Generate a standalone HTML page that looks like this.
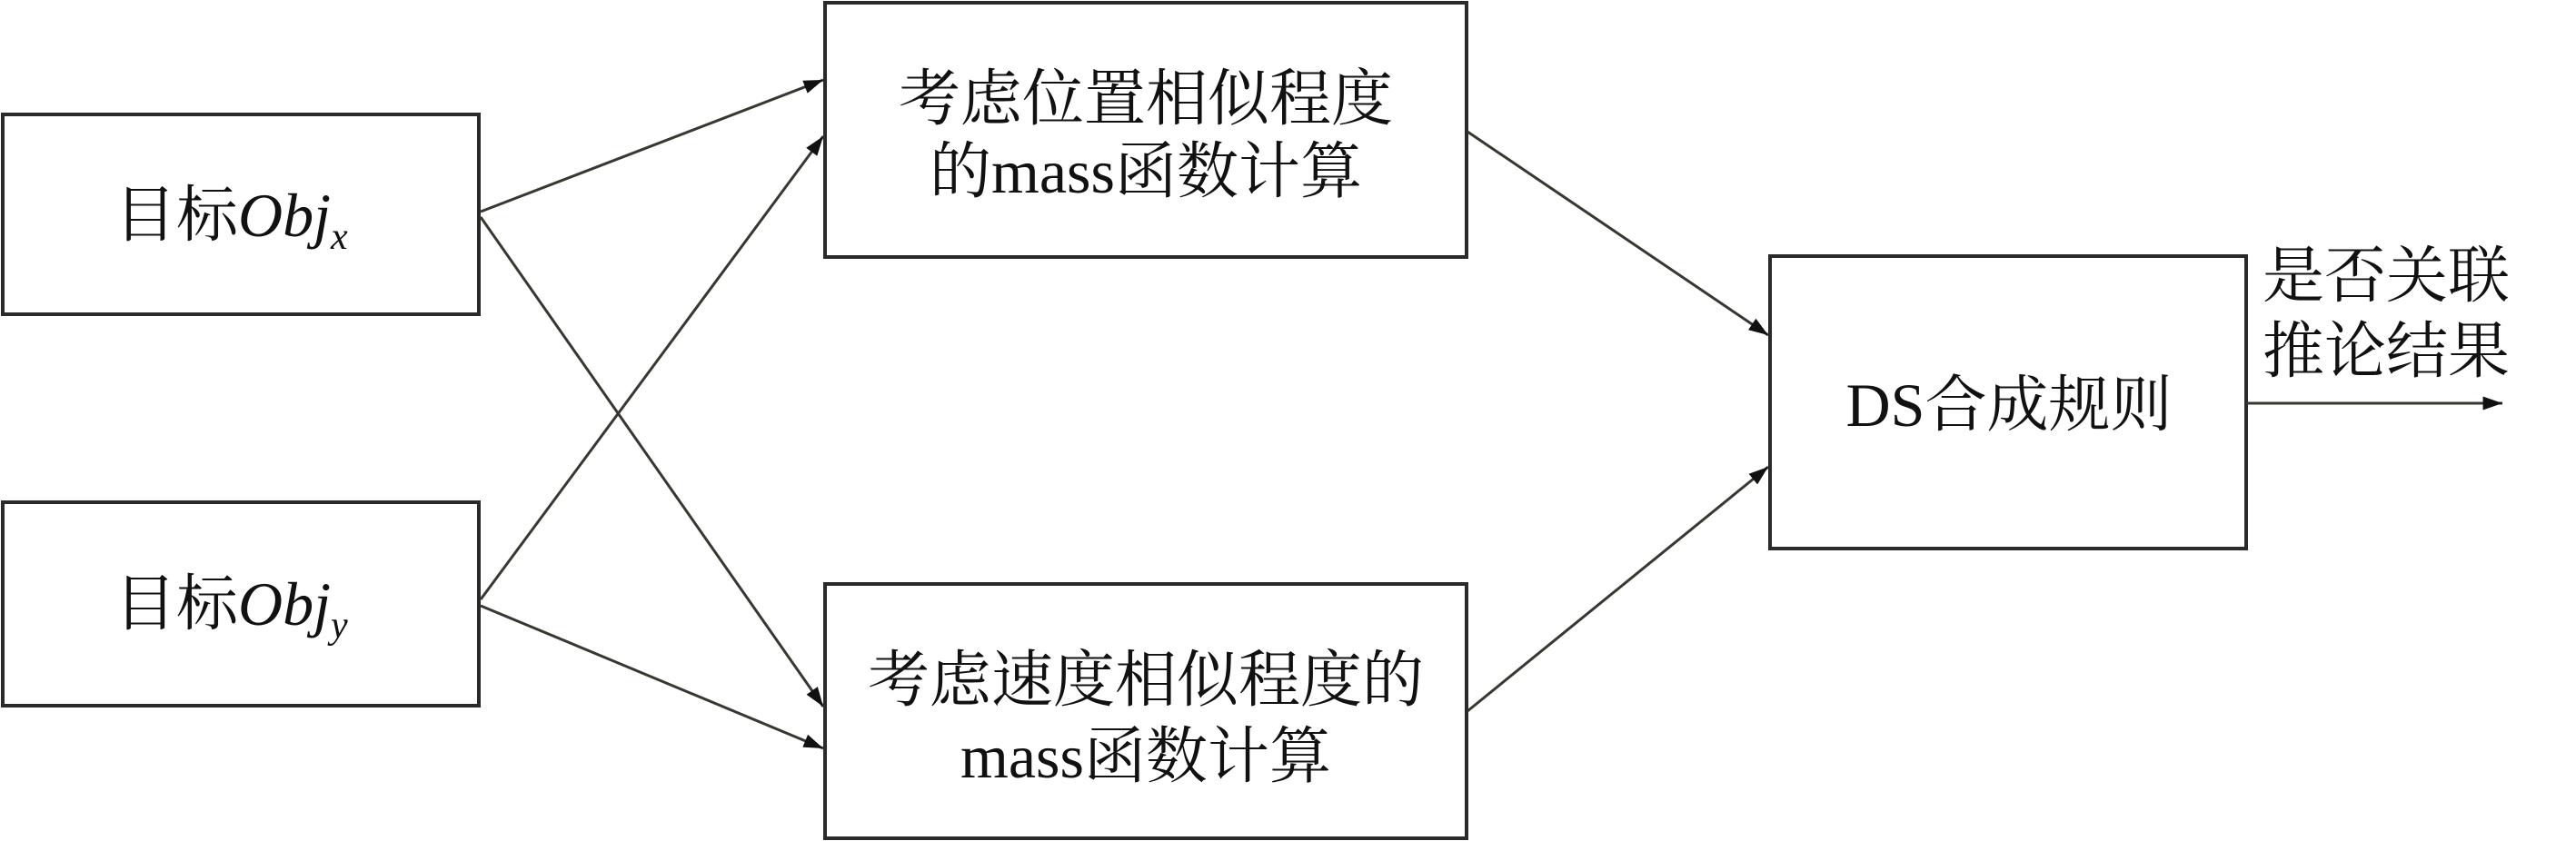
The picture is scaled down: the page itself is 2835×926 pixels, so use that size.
<!DOCTYPE html>
<html><head><meta charset="utf-8"><style>
body{margin:0;background:#fff;}
svg{display:block;}
text{font-family:"Liberation Serif","Noto Serif CJK SC",serif;fill:#111;}
</style></head><body>
<svg width="2835" height="926" viewBox="0 0 2835 926" xmlns="http://www.w3.org/2000/svg">
<defs>
<marker id="b" viewBox="0 0 20 14" markerWidth="22" markerHeight="15" refX="20" refY="7" orient="auto" markerUnits="userSpaceOnUse"><path d="M0,0 L20,7 L0,14 z" fill="#111"/></marker></defs>
<g fill="none" stroke="#2a2a2a" stroke-width="4">
<rect x="3" y="126" width="524" height="220"/>
<rect x="3" y="553" width="524" height="224"/>
<rect x="908" y="3" width="706" height="280"/>
<rect x="908" y="643" width="706" height="280"/>
<rect x="1948" y="282" width="524" height="322"/>
</g>
<g stroke="#3a3630" stroke-width="3" fill="none" marker-end="url(#b)">
<line x1="529" y1="233" x2="906" y2="88"/>
<line x1="529" y1="660" x2="906" y2="150"/>
<line x1="529" y1="239" x2="906" y2="778"/>
<line x1="529" y1="667" x2="906" y2="824"/>
<line x1="1615" y1="145" x2="1946" y2="369"/>
<line x1="1615" y1="783" x2="1946" y2="514"/>
<line x1="2472" y1="444" x2="2754" y2="444"/>
</g>
<g font-size="68">
<text x="126" y="260">目标<tspan font-style="italic">Obj</tspan><tspan font-style="italic" font-size="42" dy="14">x</tspan></text>
<text x="126" y="688">目标<tspan font-style="italic">Obj</tspan><tspan font-style="italic" font-size="42" dy="14">y</tspan></text>
<text x="1261" y="132" text-anchor="middle">考虑位置相似程度</text>
<text x="1261" y="212" text-anchor="middle">的mass函数计算</text>
<text x="1261" y="772" text-anchor="middle">考虑速度相似程度的</text>
<text x="1261" y="856" text-anchor="middle">mass函数计算</text>
<text x="2211" y="469" text-anchor="middle">DS合成规则</text>
<text x="2490" y="327">是否关联</text>
<text x="2490" y="410">推论结果</text>
</g>
</svg>
</body></html>
